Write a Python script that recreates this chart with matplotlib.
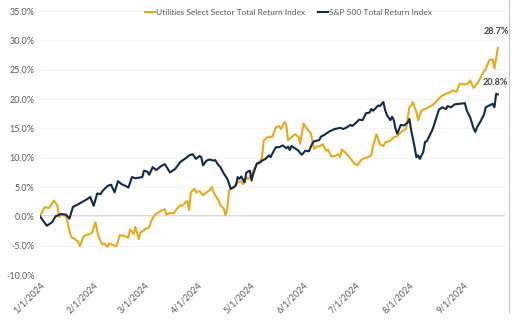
import pandas as pd
import matplotlib.pyplot as plt
import matplotlib.dates as mdates
from matplotlib.ticker import FuncFormatter, MultipleLocator
from matplotlib.lines import Line2D

# S&P 500 Total Return Index, cumulative % return
spx_dates = [
    "01-01", "01-05", "01-08", "01-10", "01-13", "01-16", "01-18", "01-20", "01-22", "01-25",
    "01-28", "01-30", "02-01", "02-03", "02-05", "02-06", "02-09", "02-11", "02-13", "02-15",
    "02-17", "02-20", "02-21", "02-23", "02-25", "02-29", "03-01", "03-03", "03-04", "03-06",
    "03-08", "03-11", "03-13", "03-16", "03-19", "03-22", "03-25", "03-27", "03-29", "03-31",
    "04-02", "04-03", "04-04", "04-06", "04-08", "04-10", "04-11", "04-13", "04-14", "04-16",
    "04-18", "04-19", "04-20", "04-22", "04-23", "04-24", "04-25", "04-26", "04-28", "04-29",
    "05-01", "05-02", "05-03", "05-05", "05-07", "05-08", "05-10", "05-12", "05-13", "05-14",
    "05-16", "05-18", "05-20", "05-22", "05-23", "05-24", "05-25", "05-27", "05-29", "05-30",
    "05-31", "06-02", "06-04", "06-06", "06-07", "06-10", "06-11", "06-13", "06-16", "06-19",
    "06-22", "06-24", "06-26", "06-28", "06-29", "07-01", "07-03", "07-05", "07-07", "07-09",
    "07-10", "07-11", "07-14", "07-15", "07-17", "07-18", "07-19", "07-21", "07-22", "07-23",
    "07-24", "07-25", "07-27", "07-29", "07-31", "08-01", "08-02", "08-04", "08-05", "08-06",
    "08-07", "08-09", "08-10", "08-11", "08-14", "08-15", "08-17", "08-18", "08-20", "08-22",
    "08-23", "08-25", "08-27", "08-30", "09-02", "09-03", "09-05", "09-07", "09-08", "09-09",
    "09-11", "09-13", "09-14", "09-16", "09-18", "09-19", "09-20", "09-21",
]
spx_values = [
    0.0, -1.6, -1.0, 0.0, 0.4, 0.3, -0.4, 1.6, 1.9, 2.4,
    2.9, 3.3, 1.8, 3.9, 3.8, 4.3, 5.2, 5.4, 4.1, 6.0,
    5.5, 5.1, 4.9, 6.7, 6.5, 6.7, 7.8, 7.6, 7.1, 8.4,
    7.9, 8.6, 8.9, 7.5, 8.1, 9.3, 9.9, 10.4, 10.6, 9.8,
    10.3, 10.1, 8.7, 9.5, 9.7, 9.5, 9.6, 8.7, 8.4, 7.3,
    6.4, 5.6, 4.7, 5.0, 5.3, 6.7, 6.4, 6.8, 5.8, 7.5,
    7.8, 6.1, 7.3, 9.0, 9.2, 9.5, 9.8, 10.4, 10.1, 10.7,
    11.8, 11.8, 12.1, 11.6, 11.9, 11.3, 12.0, 11.6, 11.2, 10.8,
    10.5, 11.2, 11.1, 12.4, 12.8, 13.0, 13.6, 13.9, 14.5, 14.9,
    15.1, 14.9, 15.2, 15.6, 15.4, 15.9, 16.5, 16.4, 17.6, 17.7,
    18.3, 18.0, 18.9, 18.8, 19.5, 18.1, 17.3, 16.4, 17.0, 16.4,
    14.9, 14.1, 15.6, 15.5, 16.0, 16.6, 14.7, 11.8, 10.1, 10.4,
    9.8, 11.0, 12.7, 12.8, 14.6, 15.4, 17.3, 18.2, 18.6, 18.3,
    18.8, 18.6, 19.1, 19.2, 19.3, 18.1, 16.9, 15.0, 14.4, 15.2,
    16.2, 17.4, 18.6, 18.9, 19.2, 18.6, 20.9, 20.8,
]

# Utilities Select Sector Total Return Index, cumulative % return
xlu_dates = [
    "01-01", "01-03", "01-04", "01-06", "01-08", "01-09", "01-11", "01-12", "01-13", "01-14",
    "01-16", "01-18", "01-19", "01-21", "01-22", "01-23", "01-24", "01-26", "01-27", "01-29",
    "01-31", "02-02", "02-03", "02-04", "02-05", "02-06", "02-07", "02-09", "02-10", "02-12",
    "02-14", "02-15", "02-16", "02-18", "02-21", "02-22", "02-24", "02-25", "02-27", "02-28",
    "02-29", "03-02", "03-04", "03-05", "03-07", "03-09", "03-11", "03-13", "03-14", "03-16",
    "03-18", "03-20", "03-22", "03-23", "03-25", "03-26", "03-27", "03-28", "03-30", "03-31",
    "04-02", "04-04", "04-06", "04-08", "04-09", "04-11", "04-13", "04-14", "04-16", "04-17",
    "04-18", "04-19", "04-21", "04-23", "04-24", "04-26", "04-27", "04-29", "04-30", "05-02",
    "05-03", "05-05", "05-07", "05-08", "05-09", "05-11", "05-12", "05-14", "05-16", "05-18",
    "05-19", "05-21", "05-22", "05-23", "05-25", "05-27", "05-29", "05-30", "06-01", "06-02",
    "06-04", "06-05", "06-06", "06-07", "06-09", "06-10", "06-12", "06-14", "06-15", "06-17",
    "06-19", "06-21", "06-22", "06-23", "06-25", "06-26", "06-29", "06-30", "07-02", "07-04",
    "07-06", "07-08", "07-10", "07-11", "07-13", "07-14", "07-15", "07-17", "07-18", "07-21",
    "07-23", "07-25", "07-28", "07-30", "08-01", "08-02", "08-03", "08-05", "08-06", "08-08",
    "08-10", "08-14", "08-16", "08-18", "08-20", "08-22", "08-24", "08-26", "08-28", "08-30",
    "09-02", "09-04", "09-05", "09-07", "09-09", "09-11", "09-12", "09-14", "09-16", "09-18",
    "09-19", "09-21",
]
xlu_values = [
    0.0, 1.2, 1.6, 1.4, 2.2, 2.7, 1.9, -0.1, 0.3, 0.2,
    0.1, -2.4, -3.5, -3.8, -4.1, -4.3, -5.1, -3.5, -3.2, -3.1,
    -2.8, -1.0, -2.5, -3.6, -4.2, -4.8, -4.6, -5.2, -4.6, -4.9,
    -5.1, -4.2, -3.2, -3.3, -3.6, -2.2, -3.0, -1.8, -3.9, -2.7,
    -2.6, -2.1, -1.9, -0.9, 0.2, 0.6, 1.0, 1.2, 0.3, 0.6,
    0.5, 1.3, 1.9, 1.8, 2.4, 2.6, 1.1, 4.1, 4.7, 4.1,
    4.3, 3.6, 4.1, 4.5, 5.0, 3.6, 2.7, 1.9, 1.3, 0.2,
    1.3, 4.4, 4.9, 5.4, 5.8, 6.0, 5.5, 6.7, 6.3, 7.1,
    7.8, 8.8, 9.5, 10.0, 12.9, 13.5, 13.5, 13.6, 15.2, 15.4,
    14.9, 16.1, 15.6, 13.0, 13.5, 14.0, 13.6, 12.4, 15.8, 15.3,
    14.6, 14.3, 13.0, 11.5, 12.0, 11.9, 12.3, 11.2, 11.4, 10.2,
    10.3, 10.6, 10.1, 11.4, 10.9, 10.6, 9.5, 9.0, 8.7, 9.6,
    9.9, 10.1, 10.4, 12.0, 14.0, 13.2, 12.3, 12.0, 12.6, 12.9,
    13.5, 13.7, 14.6, 14.9, 18.6, 18.9, 19.5, 17.8, 16.4, 18.1,
    18.3, 18.9, 19.4, 20.1, 20.6, 20.9, 21.1, 21.5, 21.2, 22.6,
    22.5, 22.7, 23.2, 21.9, 22.6, 23.6, 24.3, 25.1, 26.6, 26.8,
    25.2, 28.7,
]

month_ticks = ["2024-01-01", "2024-02-01", "2024-03-01", "2024-04-01", "2024-05-01",
               "2024-06-01", "2024-07-01", "2024-08-01", "2024-09-01"]

navy = "#13294b"
gold = "#e8aa1c"
grey = "#595959"

spx = pd.Series(spx_values, index=pd.to_datetime(["2024-" + d for d in spx_dates]))
xlu = pd.Series(xlu_values, index=pd.to_datetime(["2024-" + d for d in xlu_dates]))

plt.rcParams["font.family"] = ["Lato", "DejaVu Sans"]

fig = plt.figure(figsize=(5.12, 3.27), dpi=100)
ax = fig.add_axes([0.078, 0.159, 0.908, 0.807])

ax.plot(xlu.index, xlu.values, color=gold, lw=1.5, label="Utilities Select Sector Total Return Index")
ax.plot(spx.index, spx.values, color=navy, lw=1.5, label="S&P 500 Total Return Index")

ax.axhline(0, color="#d9d9d9", lw=1.4, zorder=0)
ax.set_ylim(-10, 35)
ax.set_xlim(pd.Timestamp("2024-01-01"), pd.Timestamp("2024-09-25"))
ax.yaxis.set_major_locator(MultipleLocator(5))
ax.yaxis.set_major_formatter(FuncFormatter(lambda v, p: f"{v:.1f}%"))
ax.grid(axis="y", color="#f3f3f3", lw=0.6, zorder=0)

ax.set_xticks(pd.to_datetime(month_ticks))
ax.xaxis.set_major_formatter(mdates.DateFormatter("%-m/%-d/%Y"))
for lbl in ax.get_xticklabels():
    lbl.set_rotation(45)
    lbl.set_ha("right")
    lbl.set_rotation_mode("anchor")

ax.tick_params(axis="both", length=0, labelsize=6.5, labelcolor=grey, pad=4)
for s in ax.spines.values():
    s.set_visible(False)

# end-of-series labels
ax.annotate(f"{xlu.values[-1]:.1f}%", (xlu.index[-1], xlu.values[-1]), xytext=(-1, 9),
            textcoords="offset points", ha="center", va="bottom", fontsize=6.5,
            fontweight="bold", color="#404040")
ax.annotate(f"{spx.values[-1]:.1f}%", (spx.index[-1], spx.values[-1]), xytext=(-2, 5),
            textcoords="offset points", ha="center", va="bottom", fontsize=6.5,
            fontweight="bold", color="#404040")

ax.legend(loc="upper center", bbox_to_anchor=(0.535, 1.035), ncol=2, frameon=False,
          fontsize=6, handlelength=1.2, handletextpad=0.1, columnspacing=1.6,
          labelcolor=grey)

# thin frame edge on the right, as in the exported chart
fig.add_artist(Line2D([509 / 512, 509 / 512], [15 / 327, 1.0], color="#c8c8c8", lw=0.8))

fig.savefig("out.png", dpi=100)
